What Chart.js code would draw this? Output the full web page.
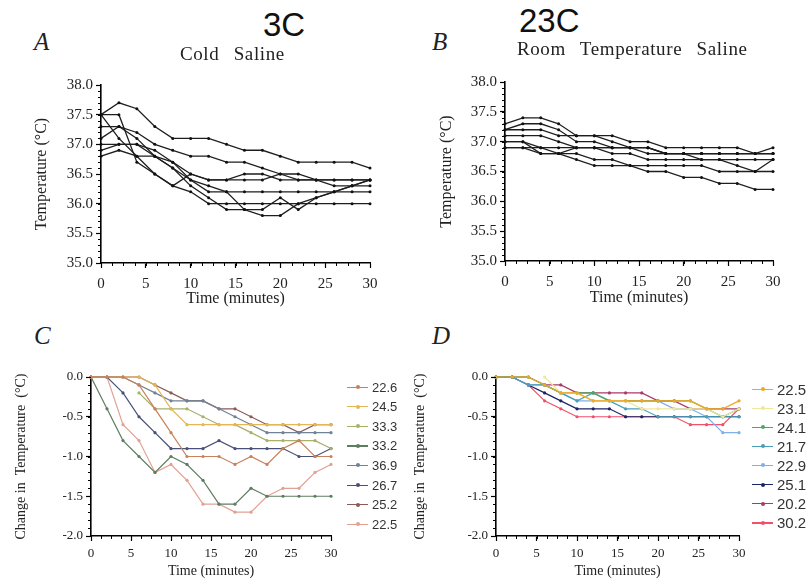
<!DOCTYPE html>
<html>
<head>
<meta charset="utf-8">
<script src="https://cdn.jsdelivr.net/npm/chart.js@4.4.0/dist/chart.umd.min.js"></script>
<style>
    body { margin: 0; background: #fff; width: 808px; height: 580px; overflow: hidden; position: relative; font-family: "Liberation Serif", serif; color: #222; }
    canvas { position: absolute; }
    .lbl { position: absolute; white-space: nowrap; line-height: 1; }
    .letter { font-style: italic; font-size: 25px; }
    .big { font-family: "Liberation Sans", Arial, sans-serif; font-size: 33px; color: #111; }
    .sub { font-size: 19px; letter-spacing: 0.6px; word-spacing: 9px; }
    .leg { position: absolute; font-family: "Liberation Sans", Arial, sans-serif; color: #333; white-space: nowrap; }
    .leg .ln { position: absolute; height: 1.4px; }
    .leg .dot { position: absolute; width: 4px; height: 4px; border-radius: 50%; }
</style>
</head>
<body>
<canvas id="graficoA" width="400" height="250" style="left:0;top:60px"></canvas>
<canvas id="graficoB" width="404" height="250" style="left:404px;top:60px"></canvas>
<canvas id="graficoC" width="404" height="220" style="left:0;top:360px"></canvas>
<canvas id="graficoD" width="404" height="220" style="left:404px;top:360px"></canvas>

<div class="lbl letter" style="left:34px;top:29px">A</div>
<div class="lbl letter" style="left:432px;top:29px">B</div>
<div class="lbl letter" style="left:34px;top:323px">C</div>
<div class="lbl letter" style="left:432px;top:323px">D</div>
<div class="lbl big" style="left:263px;top:8px">3C</div>
<div class="lbl big" style="left:519px;top:4px">23C</div>
<div class="lbl sub" style="left:180px;top:44px">Cold Saline</div>
<div class="lbl sub" style="left:517px;top:39px">Room Temperature Saline</div>
<div id="legendaC"></div>
<div id="legendaD"></div>

<script>
// tempo (min)
var minutos = [0, 2, 4, 6, 8, 10, 12, 14, 16, 18, 20, 22, 24, 26, 28, 30];

// A - soro frio, temperatura (C)
var frio = [
    [37.5, 37.7, 37.6, 37.3, 37.1, 37.1, 37.1, 37.0, 36.9, 36.9, 36.8, 36.7, 36.7, 36.7, 36.7, 36.6],
    [37.3, 37.3, 37.2, 37.0, 36.9, 36.8, 36.8, 36.7, 36.7, 36.6, 36.5, 36.4, 36.4, 36.4, 36.4, 36.4],
    [37.5, 37.5, 36.7, 36.5, 36.3, 36.5, 36.4, 36.4, 36.5, 36.5, 36.4, 36.4, 36.4, 36.3, 36.3, 36.3],
    [37.0, 37.0, 37.0, 36.9, 36.7, 36.4, 36.2, 36.2, 36.2, 36.2, 36.2, 36.2, 36.2, 36.2, 36.2, 36.2],
    [37.5, 37.1, 36.8, 36.5, 36.3, 36.2, 36.0, 36.0, 36.0, 36.0, 36.0, 36.0, 36.0, 36.0, 36.0, 36.0],
    [36.9, 37.0, 37.0, 36.8, 36.6, 36.4, 36.3, 36.2, 35.9, 35.9, 36.1, 35.9, 36.1, 36.2, 36.3, 36.4],
    [37.1, 37.3, 37.1, 36.8, 36.6, 36.3, 36.1, 35.9, 35.9, 35.8, 35.8, 36.0, 36.1, 36.2, 36.3, 36.4],
    [36.8, 36.9, 36.8, 36.8, 36.7, 36.5, 36.4, 36.4, 36.4, 36.4, 36.5, 36.5, 36.4, 36.4, 36.4, 36.4]
];

// B - soro temperatura ambiente
var ambiente = [
    [37.3, 37.4, 37.4, 37.3, 37.1, 37.1, 37.1, 37.0, 37.0, 36.9, 36.9, 36.9, 36.9, 36.9, 36.8, 36.9],
    [37.2, 37.3, 37.3, 37.2, 37.0, 37.0, 36.9, 36.9, 36.8, 36.8, 36.8, 36.8, 36.8, 36.8, 36.8, 36.8],
    [37.2, 37.2, 37.2, 37.1, 37.1, 37.1, 37.0, 36.9, 36.9, 36.8, 36.8, 36.7, 36.7, 36.6, 36.5, 36.7],
    [37.1, 37.1, 37.1, 37.0, 36.9, 36.9, 36.8, 36.8, 36.7, 36.7, 36.7, 36.7, 36.7, 36.7, 36.7, 36.7],
    [37.0, 37.0, 36.9, 36.8, 36.9, 36.9, 36.9, 36.9, 36.9, 36.8, 36.8, 36.8, 36.8, 36.8, 36.8, 36.8],
    [37.0, 37.0, 36.8, 36.8, 36.7, 36.6, 36.6, 36.6, 36.5, 36.5, 36.4, 36.4, 36.3, 36.3, 36.2, 36.2],
    [36.9, 36.9, 36.8, 36.8, 36.8, 36.7, 36.7, 36.6, 36.6, 36.6, 36.6, 36.6, 36.5, 36.5, 36.5, 36.5],
    [36.9, 36.9, 36.9, 36.9, 36.9, 36.9, 36.9, 36.9, 36.9, 36.8, 36.8, 36.8, 36.8, 36.8, 36.8, 36.8]
];

// C - variacao, soro frio
var rotulosC = ['22.6', '24.5', '33.3', '33.2', '36.9', '26.7', '25.2', '22.5'];
var variacaoC = [
    [0, 0, 0, -0.1, -0.4, -0.7, -1.0, -1.0, -1.0, -1.1, -1.0, -1.1, -0.9, -0.8, -1.0, -1.0],
    [0, 0, 0, 0, -0.1, -0.4, -0.6, -0.6, -0.6, -0.6, -0.6, -0.6, -0.6, -0.6, -0.6, -0.6],
    [null, null, null, -0.2, -0.4, -0.4, -0.4, -0.5, -0.6, -0.6, -0.7, -0.8, -0.8, -0.8, -0.8, -0.9],
    [0, -0.4, -0.8, -1.0, -1.2, -1.0, -1.1, -1.3, -1.6, -1.6, -1.4, -1.5, -1.5, -1.5, -1.5, -1.5],
    [0, 0, 0, -0.1, -0.2, -0.3, -0.3, -0.3, -0.4, -0.5, -0.6, -0.7, -0.7, -0.7, -0.7, -0.7],
    [0, 0, -0.2, -0.5, -0.7, -0.9, -0.9, -0.9, -0.8, -0.9, -0.9, -0.9, -0.9, -1.0, -1.0, -0.9],
    [0, 0, 0, 0, -0.1, -0.2, -0.3, -0.3, -0.4, -0.4, -0.5, -0.6, -0.6, -0.7, -0.6, -0.6],
    [0, 0, -0.6, -0.8, -1.2, -1.1, -1.3, -1.6, -1.6, -1.7, -1.7, -1.5, -1.4, -1.4, -1.2, -1.1]
];
var coresC = ['#c9815b', '#e6b656', '#a9b06a', '#5e7d62', '#6f8296', '#4b5077', '#8b5a5a', '#e2a192'];

// D - variacao, soro ambiente
var rotulosD = ['22.5', '23.1', '24.1', '21.7', '22.9', '25.1', '20.2', '30.2'];
var variacaoD = [
    [0, 0, 0, -0.1, -0.2, -0.2, -0.3, -0.3, -0.3, -0.3, -0.3, -0.3, -0.3, -0.4, -0.4, -0.3],
    [null, null, null, 0, -0.2, -0.2, -0.3, -0.3, -0.3, -0.4, -0.4, -0.4, -0.4, -0.4, -0.5, -0.4],
    [0, 0, 0, -0.1, -0.2, -0.2, -0.2, -0.3, -0.3, -0.3, -0.3, -0.3, -0.3, -0.4, -0.5, -0.4],
    [0, 0, -0.1, -0.1, -0.2, -0.3, -0.2, -0.3, -0.4, -0.4, -0.5, -0.5, -0.5, -0.5, -0.5, -0.5],
    [0, 0, -0.1, -0.1, -0.2, -0.3, -0.3, -0.3, -0.3, -0.3, -0.3, -0.4, -0.4, -0.5, -0.7, -0.7],
    [0, 0, -0.1, -0.2, -0.3, -0.4, -0.4, -0.4, -0.5, -0.5, -0.5, -0.5, -0.5, -0.5, -0.5, -0.5],
    [0, 0, 0, -0.1, -0.1, -0.2, -0.2, -0.2, -0.2, -0.2, -0.3, -0.3, -0.4, -0.4, -0.4, -0.4],
    [0, 0, -0.1, -0.3, -0.4, -0.5, -0.5, -0.5, -0.5, -0.5, -0.5, -0.5, -0.6, -0.6, -0.6, -0.4]
];
var coresD = ['#f2a71e', '#efe79c', '#4fa862', '#4a9fb8', '#7fb0e6', '#1c2366', '#a83b6a', '#f2506a'];

Chart.defaults.font.family = '"Liberation Serif", serif';
Chart.defaults.color = '#222';

// marcas menores nos eixos
var marcasMenores = {
    id: 'marcasMenores',
    afterDraw: function (chart, args, opts) {
        var ctx = chart.ctx;
        ctx.save();
        ctx.strokeStyle = '#000';
        ctx.lineWidth = 1;
        var sx = chart.scales.x, sy = chart.scales.y, v, p;
        for (v = sx.min; v <= sx.max + 1e-6; v += opts.x) {
            p = Math.round(sx.getPixelForValue(v)) + 0.5;
            ctx.beginPath(); ctx.moveTo(p, sx.top); ctx.lineTo(p, sx.top + 3); ctx.stroke();
        }
        for (var i = 0; sy.min + i * opts.y <= sy.max + 1e-6; i++) {
            p = Math.round(sy.getPixelForValue(sy.min + i * opts.y)) + 0.5;
            ctx.beginPath(); ctx.moveTo(sy.left + sy.width, p); ctx.lineTo(sy.left + sy.width - 3, p); ctx.stroke();
        }
        ctx.restore();
    }
};

function montarSeries(series, cores) {
    return series.map(function (s, i) {
        var cor = cores ? cores[i] : '#1e1e1e';
        return {
            label: cores ? String(i) : 'serie ' + (i + 1),
            data: minutos.map(function (t, j) { return { x: t, y: s[j] }; }),
            borderColor: cor,
            backgroundColor: cor,
            borderWidth: cores ? 1.2 : 1.3,
            pointRadius: cores ? 1.6 : 1.5,
            pointBorderWidth: 0,
            pointBackgroundColor: cores ? cor : '#111',
            tension: 0,
            clip: false
        };
    });
}

function criarGrafico(id, datasets, o) {
    return new Chart(document.getElementById(id), {
        type: 'line',
        data: { datasets: datasets },
        plugins: [marcasMenores],
        options: {
            responsive: false,
            animation: false,
            layout: { padding: { top: o.topo, right: o.direita, left: 0, bottom: 0 } },
            plugins: {
                legend: { display: false },
                tooltip: { enabled: false },
                marcasMenores: { x: 1.25, y: 0.1 }
            },
            scales: {
                x: {
                    type: 'linear', min: 0, max: 30,
                    ticks: { stepSize: 5, padding: o.padX, maxRotation: 0, font: { size: o.fonte }, color: '#222' },
                    grid: { drawOnChartArea: false, tickLength: 5, tickColor: '#000', tickWidth: 1.2 },
                    border: { color: '#000', width: 1.6 },
                    title: { display: true, text: 'Time (minutes)', font: { size: o.fonteTitulo }, color: '#222', padding: { top: 0, bottom: o.tituloX } },
                    afterFit: function (s) { s.height = o.alturaX; }
                },
                y: {
                    min: o.ymin, max: o.ymax,
                    ticks: { stepSize: 0.5, padding: 3, font: { size: o.fonte }, color: '#222', callback: function (v) { return v.toFixed(1); } },
                    grid: { drawOnChartArea: false, tickLength: 5, tickColor: '#000', tickWidth: 1.2 },
                    border: { color: '#000', width: 1.6 },
                    title: { display: true, text: o.tituloY, font: { size: o.fonteTitulo }, color: '#222', padding: { top: o.tituloYpad, bottom: 0 } },
                    afterFit: function (s) { s.width = o.larguraY; }
                }
            }
        }
    });
}

function criarLegenda(id, rotulos, cores, o) {
    var el = document.getElementById(id);
    var html = '';
    rotulos.forEach(function (r, i) {
        var y = o.y0 + i * o.passo;
        html += '<div class="leg" style="left:' + o.x + 'px;top:' + (y - o.fonte / 2 - 1) + 'px;font-size:' + o.fonte + 'px">' +
            '<span class="ln" style="left:0;top:' + (o.fonte / 2 + 0.5) + 'px;width:' + o.linha + 'px;background:' + cores[i] + '"></span>' +
            '<span class="dot" style="left:' + (o.linha / 2 - 2) + 'px;top:' + (o.fonte / 2 - 1) + 'px;background:' + cores[i] + '"></span>' +
            '<span style="margin-left:' + (o.linha + 4) + 'px">' + r + '</span></div>';
    });
    el.innerHTML = html;
}

criarGrafico('graficoA', montarSeries(frio), {
    ymin: 35, ymax: 38, topo: 25, direita: 30, alturaX: 47, larguraY: 101,
    fonte: 15, fonteTitulo: 16, padX: 7, tituloX: 2, tituloY: 'Temperature (\u00b0C)', tituloYpad: 32
});
criarGrafico('graficoB', montarSeries(ambiente), {
    ymin: 35, ymax: 38, topo: 22, direita: 35, alturaX: 49, larguraY: 101,
    fonte: 15, fonteTitulo: 16, padX: 7, tituloX: 3, tituloY: 'Temperature (\u00b0C)', tituloYpad: 33
});
criarGrafico('graficoC', montarSeries(variacaoC, coresC), {
    ymin: -2, ymax: 0, topo: 17, direita: 73, alturaX: 44, larguraY: 91,
    fonte: 13, fonteTitulo: 14, padX: 5, tituloX: 0, tituloY: 'Change in  Temperature  (\u00b0C)', tituloYpad: 13
});
criarGrafico('graficoD', montarSeries(variacaoD, coresD), {
    ymin: -2, ymax: 0, topo: 17, direita: 69, alturaX: 44, larguraY: 92,
    fonte: 13, fonteTitulo: 14, padX: 5, tituloX: 0, tituloY: 'Change in  Temperature  (\u00b0C)', tituloYpad: 8
});

criarLegenda('legendaC', rotulosC, coresC, { x: 347, y0: 387, passo: 19.6, fonte: 13, linha: 21 });
criarLegenda('legendaD', rotulosD, coresD, { x: 752, y0: 389, passo: 19.1, fonte: 15, linha: 21 });
</script>
</body>
</html>
